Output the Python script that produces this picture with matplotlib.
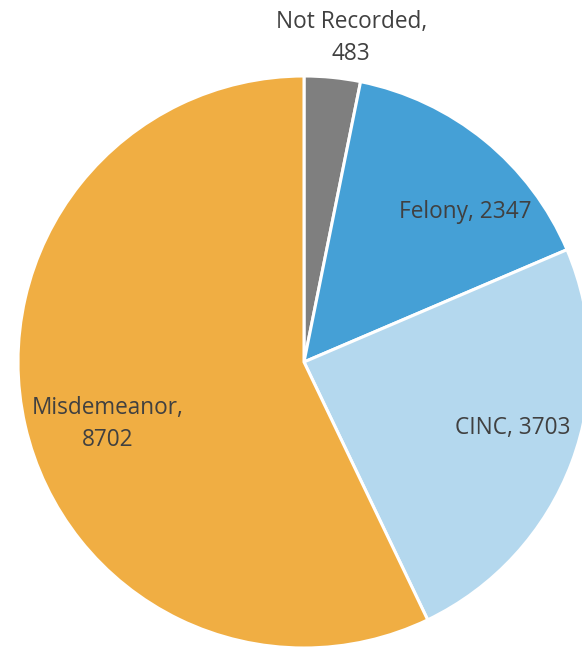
import matplotlib
matplotlib.use("Agg")
import matplotlib.pyplot as plt
import numpy as np

categories = ["Not Recorded", "Felony", "CINC", "Misdemeanor"]
values = [483, 2347, 3703, 8702]
colors = ["#7f7f7f", "#45a0d6", "#b4d8ee", "#f0ae43"]
# label placement (distance as fraction of radius, angle in degrees)
label_pos = [(1.145, 81.7), (0.77, 43.0), (0.765, -17.6), (0.72, 197.5)]
label_text = ["Not Recorded,\n483", "Felony, 2347", "CINC, 3703", "Misdemeanor,\n8702"]

plt.rcParams['font.family'] = ['Open Sans', 'DejaVu Sans']
W, H = 582, 648
fig = plt.figure(figsize=(W / 100, H / 100), dpi=100)
ax = fig.add_axes([0, 0, 1, 1])
ax.set_xlim(0, W)
ax.set_ylim(0, H)
ax.set_aspect('equal')
ax.axis('off')

cx, cy, R = 304, H - 362, 286
ax.pie(values, colors=colors, startangle=90, counterclock=False,
       center=(cx, cy), radius=R, frame=True,
       wedgeprops=dict(edgecolor='white', linewidth=2.2))
ax.set_xlim(0, W)
ax.set_ylim(0, H)
ax.axis('off')

for txt, (d, a) in zip(label_text, label_pos):
    x = cx + d * R * np.cos(np.radians(a))
    y = cy + d * R * np.sin(np.radians(a))
    ax.text(x, y, txt, ha='center', va='center', fontsize=16.3,
            color='#404040', linespacing=1.42)

fig.savefig("out.png", dpi=100)
